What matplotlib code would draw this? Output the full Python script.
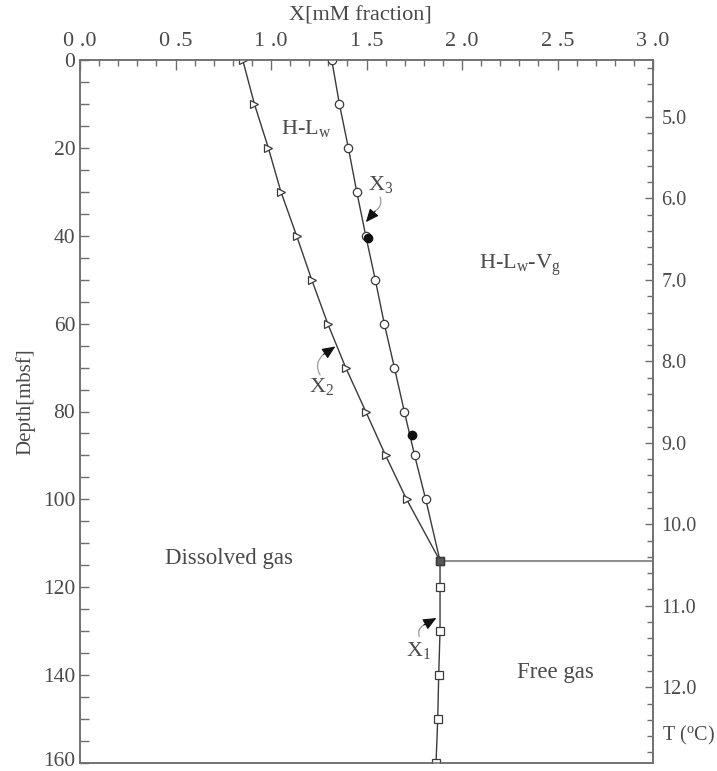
import matplotlib
matplotlib.use("Agg")
import matplotlib.pyplot as plt
from matplotlib.ticker import MultipleLocator, FixedLocator, FixedFormatter
from matplotlib.transforms import ScaledTranslation

plt.rcParams['font.family'] = ['Liberation Serif', 'DejaVu Serif']
plt.rcParams['mathtext.fontset'] = 'custom'
plt.rcParams['mathtext.rm'] = 'Liberation Serif'
plt.rcParams['mathtext.it'] = 'Liberation Serif:italic'

# ---------------- data ----------------
depth_upper = [0, 10, 20, 30, 40, 50, 60, 70, 80, 90, 100]
x3_values = [1.318, 1.358, 1.405, 1.449, 1.496, 1.546, 1.593, 1.646, 1.698, 1.752, 1.810]
x2_values = [0.852, 0.913, 0.986, 1.052, 1.134, 1.213, 1.297, 1.391, 1.496, 1.600, 1.710]
junction_depth = 114
junction_x = 1.885
depth_lower = [114, 120, 130, 140, 150, 160]
x1_values = [1.885, 1.885, 1.885, 1.878, 1.873, 1.864]
measured_depth = [40.6, 85.3]
measured_x = [1.506, 1.740]

x_ticks = [0.0, 0.5, 1.0, 1.5, 2.0, 2.5, 3.0]
x_tick_labels = ['0 .0', '0 .5', '1 .0', '1 .5', '2 .0', '2 .5', '3 .0']
depth_ticks = [0, 20, 40, 60, 80, 100, 120, 140, 160]
temp_ticks = [5.0, 6.0, 7.0, 8.0, 9.0, 10.0, 11.0, 12.0]
temp_tick_labels = ['5.0', '6.0', '7.0', '8.0', '9.0', '10.0', '11.0', '12.0']
temp_at_top = 4.30
temp_at_bottom = 12.93

# ---------------- style ----------------
TXT = '#4a4a4a'
LINE = '#3a3a3a'
SPINE = '#6e6e6e'

fig = plt.figure(figsize=(7.17, 7.71), dpi=100)
ax = fig.add_axes([80/717, 8/771, (653-80)/717, (763-60)/771])

ax.set_xlim(0, 3.0)
ax.set_ylim(160, 0)

for s in ax.spines.values():
    s.set_color(SPINE)
    s.set_linewidth(1.1)

# top axis
ax.xaxis.tick_top()
ax.xaxis.set_major_locator(FixedLocator(x_ticks))
ax.xaxis.set_major_formatter(FixedFormatter(x_tick_labels))
ax.xaxis.set_minor_locator(MultipleLocator(0.1))
ax.tick_params(axis='x', which='major', direction='in', length=7.5, width=1.0,
               color=SPINE, labelsize=16, labelcolor=TXT, pad=6.5, bottom=False, top=True)
ax.tick_params(axis='x', which='minor', direction='in', length=4.5, width=1.0,
               color=SPINE, bottom=False, top=True)

# left axis
ax.yaxis.set_major_locator(FixedLocator(depth_ticks))
ax.yaxis.set_minor_locator(MultipleLocator(5))
ax.tick_params(axis='y', which='both', direction='in', length=6.5, width=1.0,
               color=SPINE, labelsize=15.5, labelcolor=TXT, pad=3.5, right=False)

# right temperature axis
ax2 = ax.twinx()
ax2.set_ylim(temp_at_bottom, temp_at_top)
ax2.yaxis.set_major_locator(FixedLocator(temp_ticks))
ax2.yaxis.set_major_formatter(FixedFormatter(temp_tick_labels))
ax2.yaxis.set_minor_locator(MultipleLocator(0.2))
ax2.tick_params(axis='y', which='major', direction='in', length=6, width=1.0,
                color=SPINE, labelsize=14.5, labelcolor=TXT, pad=6, left=False)
ax2.tick_params(axis='y', which='minor', direction='in', length=4, width=1.0,
                color=SPINE, left=False)
for s in ax2.spines.values():
    s.set_color(SPINE)
    s.set_linewidth(1.1)

# keep the bottom depth label inside the figure
last_tick = ax.yaxis.get_major_ticks()[-1]
last_tick.label1.set_verticalalignment('baseline')
last_tick.label1.set_transform(last_tick.label1.get_transform()
                               + ScaledTranslation(0, -0.03, fig.dpi_scale_trans))

# ---------------- curves ----------------
mk = dict(markerfacecolor='white', markeredgecolor=LINE, markeredgewidth=0.9, markersize=6)
ax.plot(x3_values + [junction_x], depth_upper + [junction_depth], color=LINE, lw=1.0, zorder=2)
ax.plot(x2_values + [junction_x], depth_upper + [junction_depth], color=LINE, lw=1.0, zorder=2)
ax.plot(x1_values, depth_lower, color=LINE, lw=1.0, zorder=2)
ax.hlines(junction_depth, junction_x, 3.0, color=SPINE, lw=1.1, zorder=2)

ax.plot(x3_values, depth_upper, linestyle='none', marker='o', zorder=3, **mk)
ax.plot(x2_values, depth_upper, linestyle='none', marker='>', zorder=3, **mk)
ax.plot(x1_values, depth_lower, linestyle='none', marker='s', zorder=3, **mk)
ax.plot([junction_x], [junction_depth], linestyle='none', marker='s', markersize=6,
        markerfacecolor='#555555', markeredgecolor=LINE, zorder=4)
ax.plot(measured_x, measured_depth, linestyle='none', marker='o', markersize=6,
        markerfacecolor='#111111', markeredgecolor='#111111', zorder=4)

# ---------------- labels ----------------
fig.text(360/717, 1 - 16/771, 'X[mM fraction]', ha='center', va='center',
         fontsize=16, color=TXT)
fig.text(25/717, 1 - 402/771, 'Depth[mbsf]', ha='center', va='center',
         rotation=90, fontsize=15, color=TXT)

ax.text(1.183, 15.5, r'H-L$_{\rm w}$', ha='center', va='center', fontsize=16, color=TXT)
ax.text(2.304, 46.7, r'H-L$_{\rm w}$-V$_{\rm g}$', ha='center', va='center', fontsize=16, color=TXT)
ax.text(0.782, 113.4, 'Dissolved gas', ha='center', va='center', fontsize=16.5, color=TXT)
ax.text(2.487, 139.3, 'Free gas', ha='center', va='center', fontsize=16.5, color=TXT)
ax.text(1.576, 28.4, r'X$_{3}$', ha='center', va='center', fontsize=16, color=TXT)
ax.text(1.267, 74.3, r'X$_{2}$', ha='center', va='center', fontsize=16, color=TXT)
ax.text(1.775, 134.3, r'X$_{1}$', ha='center', va='center', fontsize=16, color=TXT)
ax.text(1.0 + 7/573 + 0.003, 153.8, r'T ($^{\rm o}$C)', transform=ax.get_yaxis_transform(),
        ha='left', va='center', fontsize=14.5, color=TXT, clip_on=False)

# ---------------- arrows ----------------
def curved_arrow(tail, mid, head, rad):
    ax.annotate('', xy=mid, xytext=tail,
                arrowprops=dict(arrowstyle='-', color='#9a9a9a', lw=0.9,
                                connectionstyle=f'arc3,rad={rad}', shrinkA=0, shrinkB=0))
    ax.annotate('', xy=head, xytext=mid,
                arrowprops=dict(arrowstyle='-|>,head_length=0.8,head_width=0.35',
                                color='#111111', lw=0.8, shrinkA=0, shrinkB=0))

curved_arrow((1.571, 31.2), (1.545, 34.4), (1.497, 36.9), -0.4)
curved_arrow((1.257, 71.7), (1.275, 67.0), (1.337, 65.2), -0.4)
curved_arrow((1.776, 131.2), (1.800, 128.6), (1.866, 127.0), -0.4)

fig.savefig('out.png', dpi=100)
